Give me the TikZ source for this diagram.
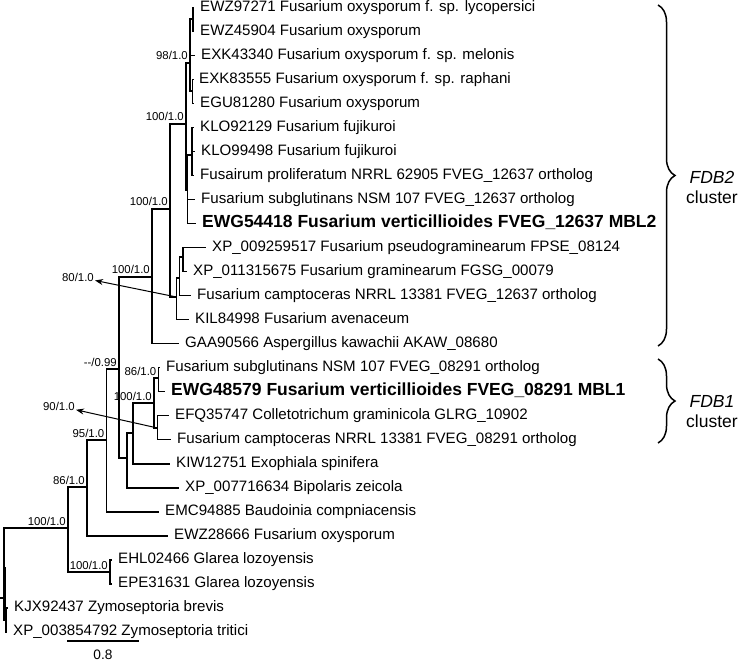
\documentclass[tikz,border=0pt]{standalone}
\usepackage{fontspec}
\setmainfont{Liberation Sans}
\usetikzlibrary{arrows.meta, decorations.pathreplacing}

\tikzset{
	branch/.style={line width=1.5pt},
	elbow/.style={to path={|- (\tikztotarget)}},
	leaf/.style={anchor=west, inner xsep=6pt, inner ysep=0pt, text height=0.72em, text depth=0pt, font=\fontsize{15.1}{17}\selectfont},
	leafbf/.style={leaf, font=\fontsize{17.5}{20}\selectfont\bfseries},
	supp/.style={anchor=base east, inner sep=0pt, xshift=-2pt, yshift=3pt, font=\fontsize{11.4}{13}\selectfont},
	callout/.style={anchor=east, inner sep=1pt, font=\fontsize{11.4}{13}\selectfont},
	pointer/.style={line width=1pt, -{Stealth[length=8pt,width=6pt]}},
	clusterbrace/.style={line width=1.5pt, decorate, decoration={brace, amplitude=17pt}},
	clusterlbl/.style={align=center, inner sep=0pt, font=\fontsize{17.5}{20}\selectfont}
}

\begin{document}
\begin{tikzpicture}[x=1pt, y=-1pt]
	\useasboundingbox (0,0) rectangle (742,663);

	\node[leaf]   (t1)  at (194,7.5)   {EWZ97271 Fusarium oxysporum f. sp. lycopersici};
	\node[leaf]   (t2)  at (194,31.5)  {EWZ45904 Fusarium oxysporum};
	\node[leaf]   (t3)  at (195,55.5)  {EXK43340 Fusarium oxysporum f. sp. melonis};
	\node[leaf]   (t4)  at (193,79.5)  {EXK83555 Fusarium oxysporum f. sp. raphani};
	\node[leaf]   (t5)  at (194,103.5) {EGU81280 Fusarium oxysporum};
	\node[leaf]   (t6)  at (194,127.5) {KLO92129 Fusarium fujikuroi};
	\node[leaf]   (t7)  at (195,151.5) {KLO99498 Fusarium fujikuroi};
	\node[leaf]   (t8)  at (194,175.5) {Fusairum proliferatum NRRL 62905 FVEG\_12637 ortholog};
	\node[leaf]   (t9)  at (195,199.5) {Fusarium subglutinans NSM 107 FVEG\_12637 ortholog};
	\node[leafbf] (t10) at (196,223.5) {EWG54418 Fusarium verticillioides FVEG\_12637 MBL2};
	\node[leaf]   (t11) at (206,247.5) {XP\_009259517 Fusarium pseudograminearum FPSE\_08124};
	\node[leaf]   (t12) at (187,271.5) {XP\_011315675 Fusarium graminearum FGSG\_00079};
	\node[leaf]   (t13) at (191,295.5) {Fusarium camptoceras NRRL 13381 FVEG\_12637 ortholog};
	\node[leaf]   (t14) at (189,319.5) {KIL84998 Fusarium avenaceum};
	\node[leaf]   (t15) at (179,343.6) {GAA90566 Aspergillus kawachii AKAW\_08680};
	\node[leaf]   (t16) at (160,367.6) {Fusarium subglutinans NSM 107 FVEG\_08291 ortholog};
	\node[leafbf] (t17) at (165,391.6) {EWG48579 Fusarium verticillioides FVEG\_08291 MBL1};
	\node[leaf]   (t18) at (169,415.7) {EFQ35747 Colletotrichum graminicola GLRG\_10902};
	\node[leaf]   (t19) at (171,439.7) {Fusarium camptoceras NRRL 13381 FVEG\_08291 ortholog};
	\node[leaf]   (t20) at (170,463.8) {KIW12751 Exophiala spinifera};
	\node[leaf]   (t21) at (179,487.8) {XP\_007716634 Bipolaris zeicola};
	\node[leaf]   (t22) at (159,511.8) {EMC94885 Baudoinia compniacensis};
	\node[leaf]   (t23) at (168,535.9) {EWZ28666 Fusarium oxysporum};
	\node[leaf]   (t24) at (112,559.9) {EHL02466 Glarea lozoyensis};
	\node[leaf]   (t25) at (112,584)   {EPE31631 Glarea lozoyensis};
	\node[leaf]   (t26) at (8,608)     {KJX92437 Zymoseptoria brevis};
	\node[leaf]   (t27) at (7,632)     {XP\_003854792 Zymoseptoria tritici};

	\coordinate (L1)   at (193,19);
	\coordinate (L2)   at (192.5,91);
	\coordinate (L)    at (190,63);
	\coordinate (R)    at (192,155);
	\coordinate (Q)    at (187.5,190);
	\coordinate (K)    at (186,124);
	\coordinate (N)    at (183,257);
	\coordinate (M)    at (179.5,278);
	\coordinate (J)    at (176.5,297);
	\coordinate (I)    at (170,209);
	\coordinate (H)    at (152,277);
	\coordinate (F)    at (158.5,378);
	\coordinate (G)    at (157.5,428);
	\coordinate (E)    at (154,403);
	\coordinate (T)    at (133,433);
	\coordinate (S)    at (127,458);
	\coordinate (D)    at (119,369);
	\coordinate (C)    at (106.5,440);
	\coordinate (B)    at (87,487);
	\coordinate (U)    at (110,572);
	\coordinate (A)    at (68,528);
	\coordinate (Z)    at (6,620);
	\coordinate (root) at (4,598);
	\coordinate (stem) at (0,598);

	\path[branch]
		(L1) edge[elbow] (t1)   (L1) edge[elbow] (t2)
		(L2) edge[elbow] (t4)   (L2) edge[elbow] (t5)
		(L)  edge[elbow] (L1)   (L)  edge[elbow] (t3)   (L) edge[elbow] (L2)
		(R)  edge[elbow] (t6)   (R)  edge[elbow] (t7)   (R) edge[elbow] (t8)
		(Q)  edge[elbow] (R)    (Q)  edge[elbow] (t9)   (Q) edge[elbow] (t10)
		(K)  edge[elbow] (L)    (K)  edge[elbow] (Q)
		(N)  edge[elbow] (t11)  (N)  edge[elbow] (t12)
		(M)  edge[elbow] (N)    (M)  edge[elbow] (t13)
		(J)  edge[elbow] (M)    (J)  edge[elbow] (t14)
		(I)  edge[elbow] (K)    (I)  edge[elbow] (J)
		(H)  edge[elbow] (I)    (H)  edge[elbow] (t15)
		(F)  edge[elbow] (t16)  (F)  edge[elbow] (t17)
		(G)  edge[elbow] (t18)  (G)  edge[elbow] (t19)
		(E)  edge[elbow] (F)    (E)  edge[elbow] (G)
		(T)  edge[elbow] (E)    (T)  edge[elbow] (t20)
		(S)  edge[elbow] (T)    (S)  edge[elbow] (t21)
		(D)  edge[elbow] (H)    (D)  edge[elbow] (S)
		(C)  edge[elbow] (D)    (C)  edge[elbow] (t22)
		(B)  edge[elbow] (C)    (B)  edge[elbow] (t23)
		(U)  edge[elbow] (t24)  (U)  edge[elbow] (t25)
		(A)  edge[elbow] (B)    (A)  edge[elbow] (U)
		(Z)  edge[elbow] (t26)  (Z)  edge[elbow] (t27)
		(root) edge[elbow] (A)  (root) edge[elbow] (Z)
		(stem) edge (root)
		;
	\draw[line width=3pt] (root |- 0,567) -- (root |- 0,609);

	\node[supp] (sL) at (L) {98/1.0};
	\node[supp] (sK) at (K) {100/1.0};
	\node[supp] (sI) at (I) {100/1.0};
	\node[supp] (sH) at (H) {100/1.0};
	\node[supp] (sD) at (D) {-{}-/0.99};
	\node[supp] (sF) at (F) {86/1.0};
	\node[supp] (sE) at (E) {100/1.0};
	\node[supp] (sC) at (C) {95/1.0};
	\node[supp] (sB) at (B) {86/1.0};
	\node[supp] (sA) at (A) {100/1.0};
	\node[supp] (sU) at (U) {100/1.0};

	\node[callout] (cJ) at (95,277) {80/1.0};
	\node[callout] (cG) at (76,406) {90/1.0};
	\draw[pointer] (J) -- (cJ);
	\draw[pointer] (G) -- (cG);

	\coordinate (sb1) at (67,641);
	\coordinate (sb2) at (139,641);
	\draw[branch] (sb1) -- (sb2);
	\node[inner sep=0pt, font=\fontsize{13.7}{16}\selectfont] (sbl) at (103,655) {0.8};

	\coordinate (b2top) at (658,5);
	\coordinate (b2bot) at (658,346);
	\coordinate (b1top) at (658,359);
	\coordinate (b1bot) at (658,443);
	\draw[clusterbrace] (b2top) -- (b2bot);
	\draw[clusterbrace] (b1top) -- (b1bot);
	\node[clusterlbl] (fdb2) at (712,187) {\textit{FDB2}\\cluster};
	\node[clusterlbl] (fdb1) at (712,412) {\textit{FDB1}\\cluster};
\end{tikzpicture}
\end{document}
